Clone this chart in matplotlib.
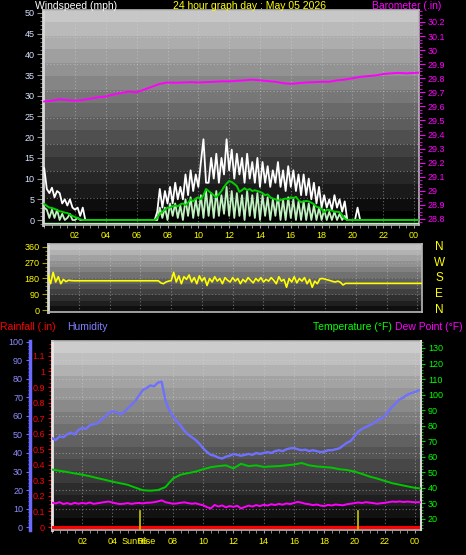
import numpy as np
import matplotlib.pyplot as plt
import matplotlib.transforms as mtransforms
from matplotlib.ticker import MultipleLocator, FuncFormatter

plt.rcParams['font.family'] = ['Liberation Sans', 'DejaVu Sans']

# --- wind readings, one every 10 minutes from 00:00 (mph) ---
wind_gust = [
    12.5, 7.5, 6.5, 7.8, 5.5, 7.0, 6.5, 4.0, 5.0, 3.5, 5.0, 3.0, 2.5, 3.0, 1.0, 3.0,
    0, 0, 0, 0, 0, 0, 0, 0, 0, 0, 0, 0, 0, 0, 0, 0, 0, 0, 0, 0, 0, 0, 0, 0, 0, 0, 0, 0,
    2, 7.5, 3, 7, 4, 8, 4, 9, 5, 8,
    5, 11, 6, 12, 7, 11, 8, 14, 19.5, 9,
    9, 15, 10, 16, 9, 15, 11, 19.5, 12, 17,
    10, 16, 11, 15, 9, 16, 10, 14, 9, 15,
    8, 14, 9, 13, 8, 12, 9, 14, 8, 12,
    7, 13, 8, 12, 7, 11, 6, 11, 6, 10,
    5, 9, 4, 8, 3, 6, 3, 5, 2.5, 6,
    3, 5, 2, 4.5,
    0, 0, 0, 0, 3.0, 0, 0, 0, 0, 0, 0, 0, 0, 0, 0, 0, 0, 0, 0, 0, 0, 0, 0, 0, 0, 0, 0, 0, 0,
]
wind_speed = [
    3, 2.5, 0.5, 2.5, 0.5, 2.5, 0, 1.5, 0, 0.5, 1.5, 0, 0, 0.5, 0, 0,
    0, 0, 0, 0, 0, 0, 0, 0, 0, 0, 0, 0, 0, 0, 0, 0, 0, 0, 0, 0, 0, 0, 0, 0, 0, 0, 0, 0,
    0, 3, 0.5, 3, 0, 4, 1, 4, 0.5, 3.5,
    0, 5, 1, 5.5, 0.5, 5, 1, 6, 0.5, 7,
    1, 6.5, 0.5, 7, 1, 6, 1.5, 8, 1, 7,
    0.5, 6.5, 1, 6, 0, 7, 1, 6, 0.5, 6.5,
    0, 6, 1, 5.5, 0, 5, 1, 6, 0, 5,
    0, 5.5, 0.5, 5, 0, 4.5, 0, 4.5, 0, 4,
    0, 3.5, 0, 3, 0, 2.5, 0, 2, 0, 2,
    0, 1.5, 0, 1,
    0, 0, 0, 0, 0, 0, 0, 0, 0, 0, 0, 0, 0, 0, 0, 0, 0, 0, 0, 0, 0, 0, 0, 0, 0, 0, 0, 0, 0,
]
wind_avg = [
    3.9, 3.4, 3.0, 2.9, 2.7, 2.4, 2.1, 2.0, 1.8, 1.7, 1.3, 1.0, 0.7, 0.5, 0.2, 0.0,
    0, 0, 0, 0, 0, 0, 0, 0, 0, 0, 0, 0, 0, 0, 0, 0, 0, 0, 0, 0, 0, 0, 0, 0, 0, 0, 0, 0,
    0.5, 1.5, 2, 2.5, 3, 3, 3.3, 3.5, 3.3, 3.8,
    4, 3.6, 4.2, 5, 4.5, 5.2, 5.5, 5, 6, 7.5,
    7, 6.5, 6, 5.5, 6.2, 7, 8, 8.8, 9.4, 9.2,
    8.7, 8.2, 6.8, 7.2, 7.7, 7.2, 7.5, 7, 7.2, 7,
    6.8, 6.5, 6.0, 6.2, 5.5, 5.2, 5, 4.7, 4.8, 5,
    5.2, 5, 5.5, 5.3, 5.6, 4.8, 4.3, 4.5, 4.6, 4.5,
    4.2, 3.8, 3.2, 3.0, 2.7, 1.8, 2.5, 2.4, 2.3, 2.0,
    2, 1.9, 1.2, 0.3,
    0, 0, 0, 0, 0, 0, 0, 0, 0, 0, 0, 0, 0, 0, 0, 0, 0, 0, 0, 0, 0, 0, 0, 0, 0, 0, 0, 0, 0,
]
# wind direction (degrees), same 10 minute steps
wind_dir = [
    200, 150, 215, 160, 190, 150, 175, 162, 170, 168,
    167, 167, 167, 167, 167, 167, 167, 167, 167, 167, 167, 167, 167, 167, 167, 167, 167,
    167, 167, 167, 167, 167, 167, 167, 167, 167, 167, 167, 167, 167, 167, 167, 167, 167,
    155, 150, 160, 165, 168,
    215, 160, 195, 150, 190, 175, 200, 160, 185, 150,
    195, 165, 185, 140, 180, 160, 190, 165, 180, 150,
    185, 170, 160, 185, 165, 180, 150, 175, 160, 185,
    170, 155, 180, 165, 185, 160, 175, 165, 185, 170,
    150, 190, 165, 175, 130, 180, 160, 190, 155, 180,
    165, 185, 150, 175, 130, 165, 150, 178, 180, 176,
    172, 168, 163, 160, 165, 158, 143,
    152, 152, 152, 152, 152, 152, 152, 152, 152, 152, 152, 152, 152, 152, 152, 152,
    152, 152, 152, 152, 152, 152, 152, 152, 152, 152, 152, 152, 152, 152, 152,
]

# barometer every 30 minutes (in)
baro = [
    29.635, 29.64, 29.65, 29.645, 29.64, 29.645, 29.655, 29.665, 29.67, 29.685,
    29.695, 29.705, 29.70, 29.72, 29.74, 29.76, 29.77, 29.768, 29.77, 29.772,
    29.77, 29.772, 29.775, 29.778, 29.778, 29.782, 29.785, 29.79, 29.785, 29.78,
    29.775, 29.765, 29.76, 29.765, 29.77, 29.772, 29.775, 29.775, 29.785, 29.79,
    29.80, 29.81, 29.815, 29.82, 29.83, 29.835, 29.838, 29.835, 29.838, 29.84,
]

# humidity (%) and dew point (F) every 15 minutes
humidity = [
    48, 47, 49, 48.5, 50, 51, 50, 52.5, 53.5, 53, 55, 55.5, 56, 58, 59.5, 61.6,
    62.5, 62, 61, 62, 64, 66, 68, 71, 74, 75, 76.5, 76, 78, 78.5, 68.5, 63,
    60, 57, 55, 52, 50, 48.5, 47, 45, 42.5, 40.5, 39, 38.5, 37.5, 37, 38, 38.5,
    39.5, 39, 38.5, 39, 39.5, 39, 40, 39.5, 40, 40.5, 40, 41, 41.5, 41, 42, 42.5,
    42.7, 42, 41.5, 41.8, 41, 41.5, 41, 40.5, 40.7, 41.5, 41.5, 42, 42.5, 44, 45.5, 46.5,
    49, 51.5, 53, 54, 55, 56, 57.5, 58.5, 60, 62.5, 65, 67, 69, 70, 71.5, 72.3,
    73, 73.8, 74.5,
]
dew_point = [
    30.5, 30, 30.8, 29.6, 30.2, 29.5, 30.4, 29.8, 30.3, 29.9, 30.6, 29.7, 30.1, 30.5, 30.9, 31.2,
    30.6, 30, 29.6, 29.8, 30.2, 29.7, 30.1, 30.3, 30, 30.4, 30.5, 30.8, 31.3, 32, 30.8, 30.3,
    29.8, 30, 30.4, 30.7, 30.2, 29.8, 30.1, 29.4, 28.8, 27.6, 26.8, 29, 28, 28.7, 27.5, 28.3,
    27.8, 28.5, 26.8, 27.7, 28.6, 28, 28.9, 28.3, 29.1, 28.6, 29.5, 29, 29.7, 29.2, 30, 29.6,
    30.3, 31, 30.5, 29.8, 29.5, 28.9, 29.3, 28.6, 28.3, 29, 28.7, 29.3, 29, 28.8, 29.5, 29.8,
    30.2, 30.6, 30.3, 30.8, 30.5, 30.2, 29.8, 30.1, 30.4, 30.8, 31.2, 31, 31.3, 30.9, 31.2, 31,
    30.7, 30.8, 30.6,
]
# temperature (F) every 30 minutes
temperature = [
    51.8, 51, 50.2, 49.3, 48.5, 47.5, 46.3, 45.2, 44, 43,
    42, 40.2, 38.5, 38.2, 38.6, 40.5, 46, 48.5, 49.5, 50.5,
    52, 53.3, 54, 54.5, 52.5, 55.5, 54, 54.5, 53.5, 53.8,
    54, 54.5, 55, 56, 54.5, 53.8, 53.4, 53, 52, 51.5,
    50.5, 49, 47.3, 46, 44.5, 43, 42, 41, 40, 39.5,
]
# rainfall (in), hourly
rain = [0.0, 0.0, 0.0, 0.0, 0.0, 0.0, 0.0, 0.0, 0.0, 0.0, 0.0, 0.0, 0.0,
        0.0, 0.0, 0.0, 0.0, 0.0, 0.0, 0.0, 0.0, 0.0, 0.0, 0.0, 0.0, 0.0]

sunrise_hr = 5.83
sunset_hr = 20.23
chart_title = '24 hour graph day : May 05 2026'
hour_ticks = [2, 4, 6, 8, 10, 12, 14, 16, 18, 20, 22, 24]
hour_labels = ['02', '04', '06', '08', '10', '12', '14', '16', '18', '20', '22', '00']
compass = ['N', 'W', 'S', 'E', 'N']
compass_deg = [360, 270, 180, 90, 0]

t10 = np.arange(len(wind_gust)) / 6
t15 = np.arange(len(humidity)) / 4
t30 = np.arange(len(baro)) / 2
t_temp = np.arange(len(temperature)) / 2
t_rain = np.arange(len(rain))

W, H = 466, 555
fig = plt.figure(figsize=(W / 100, H / 100), dpi=100, facecolor='black')


def box(x0, y0, x1, y1):
    # pixel box (top-left origin) -> figure fraction rect
    return [x0 / W, 1 - y1 / H, (x1 - x0) / W, (y1 - y0) / H]


def shade(ax, top, bottom, n=16):
    vals = np.linspace(top, bottom, n).reshape(-1, 1)
    ax.imshow(vals, cmap='gray', vmin=0, vmax=1, aspect='auto', extent=[0, 1, 0, 1],
              transform=ax.transAxes, interpolation='nearest', zorder=0)


def hgrid(ax, fracs):
    for f in fracs:
        ax.plot([0, 1], [f, f], transform=ax.transAxes, color='#d8d8d8', alpha=0.45,
                lw=0.8, ls=(0, (1, 2)), zorder=1)


def xgrid(ax):
    for h in hour_ticks:
        ax.axvline(h, color='#d8d8d8', alpha=0.45, lw=0.8, ls=(0, (1, 2)), zorder=1)


def style_spines(ax, left='#d8d8d8'):
    for s in ['top', 'right', 'bottom']:
        ax.spines[s].set_color('#b8b8b8')
        ax.spines[s].set_linewidth(1.2)
    ax.spines['left'].set_color(left)
    ax.spines['left'].set_linewidth(2)


# --- top panel: wind speed + barometer ---
ax_w = fig.add_axes(box(43, 10, 419, 225))
ax_w.set_facecolor('black')
shade(ax_w, 0.78, 0.0)
hgrid(ax_w, np.linspace(0, 1, 9)[1:-1])
xgrid(ax_w)
ax_w.plot(t10, wind_gust, color='white', lw=1.3, zorder=3)
ax_w.axhline(-0.7, color='#b8f0b8', lw=1.0, zorder=3)
ax_w.plot(t10, wind_speed, color='#c0f2c0', lw=1.3, zorder=4)
ax_w.plot(t10, wind_avg, color='#00d000', lw=1.4, zorder=5)
ax_w.set_xlim(-0.08, 24.32)
ax_w.set_ylim(-1.2, 50.7)
ax_w.set_xticks(hour_ticks)
ax_w.set_xticklabels(hour_labels)
ax_w.xaxis.set_minor_locator(MultipleLocator(0.5))
ax_w.yaxis.set_major_locator(MultipleLocator(5))
ax_w.yaxis.set_minor_locator(MultipleLocator(1))
ax_w.tick_params(axis='x', which='both', colors='#a0a0a0', labelcolor='#ffff00',
                 labelsize=6.5, length=2, pad=2)
ax_w.tick_params(axis='y', which='major', colors='#909090', labelcolor='#d8e4ff',
                 labelsize=6.5, length=4, pad=2)
ax_w.tick_params(axis='y', which='minor', colors='#909090', length=2)
style_spines(ax_w)

ax_b = ax_w.twinx()
ax_b.plot(t30, baro, color='#ff00ff', lw=1.4, zorder=6)
ax_b.set_ylim(28.757, 30.285)
ax_b.yaxis.set_major_locator(MultipleLocator(0.1))
ax_b.yaxis.set_minor_locator(MultipleLocator(0.025))
ax_b.yaxis.set_major_formatter(FuncFormatter(lambda v, p: f'{v:.1f}'.rstrip('0').rstrip('.')))
ax_b.tick_params(axis='y', which='major', colors='#ff00ff', labelsize=6.5, length=4, pad=2)
ax_b.tick_params(axis='y', which='minor', colors='#ff00ff', length=2)
for s in ax_b.spines.values():
    s.set_visible(False)

fig.text(35 / W, 1 - 6 / H, 'Windspeed (mph)', color='white', fontsize=7.5, va='center')
fig.text(250 / W, 1 - 6 / H, chart_title, color='#ffff00', fontsize=7.5,
         va='center', ha='center')
fig.text(372 / W, 1 - 6 / H, 'Barometer (.in)', color='#ff00ff', fontsize=7.5, va='center')

# --- middle panel: wind direction ---
ax_d = fig.add_axes(box(48, 244, 422, 312))
shade(ax_d, 0.76, 0.06, n=12)
xgrid(ax_d)
for d in [90, 180, 270]:
    ax_d.axhline(d, color='#c0c0c0', alpha=0.35, lw=0.8, ls=(0, (1, 2)), zorder=1)
ax_d.plot(t10, wind_dir, color='#ffff00', lw=1.2, zorder=3)
ax_d.set_xlim(0, 24.3)
ax_d.set_ylim(-11.4, 377)
ax_d.set_yticks([0, 90, 180, 270, 360])
ax_d.yaxis.set_minor_locator(MultipleLocator(22.5))
ax_d.set_xticks([])
ax_d.tick_params(axis='y', which='major', colors='#a0a000', labelcolor='#ffff00',
                 labelsize=6.5, length=4, pad=2)
ax_d.tick_params(axis='y', which='minor', colors='#a0a000', length=2)
style_spines(ax_d)
trans_d = mtransforms.blended_transform_factory(ax_d.transAxes, ax_d.transData)
for lab, deg in zip(compass, compass_deg):
    ax_d.text(1.046, deg, lab, transform=trans_d, color='#ffff00', fontsize=8.5,
              ha='center', va='center', clip_on=False)

# --- legend row ---
fy = 1 - 327 / H
fig.text(0 / W, fy, 'Rainfall (.in)', color='#ff0000', fontsize=7.5, va='center')
fig.text(67 / W, fy, 'Humidity', color='#8080ff', fontsize=7.5, va='center')
fig.text(313 / W, fy, 'Temperature (°F)', color='#00ff00', fontsize=7.5, va='center')
fig.text(395 / W, fy, 'Dew Point (°F)', color='#ff00ff', fontsize=7.5, va='center')

# --- bottom panel: rain, humidity, temperature, dew point ---
ax_r = fig.add_axes(box(52, 341, 421, 530))
shade(ax_r, 0.8, 0.02)
hgrid(ax_r, [(v + 1.6) / 102.1 for v in [10, 20, 30, 40, 50, 60, 70, 80, 90]])
xgrid(ax_r)
ax_r.plot(t_rain, rain, color='#ff0000', lw=2.2, zorder=6)
for hr in [sunrise_hr, sunset_hr]:
    ax_r.axvline(hr, ymin=0, ymax=0.1, color='#c8c800', lw=1.2, zorder=7)
ax_r.set_xlim(0.0, 24.4)
ax_r.set_ylim(-0.019, 1.196)
ax_r.set_xticks(hour_ticks)
ax_r.set_xticklabels(hour_labels)
ax_r.xaxis.set_minor_locator(MultipleLocator(0.5))
ax_r.yaxis.set_major_locator(MultipleLocator(0.1))
ax_r.yaxis.set_minor_locator(MultipleLocator(0.025))
ax_r.yaxis.set_major_formatter(FuncFormatter(lambda v, p: f'{v:.1f}'.rstrip('0').rstrip('.')))
ax_r.tick_params(axis='x', which='both', colors='#a0a0a0', labelcolor='#ffff00',
                 labelsize=6.5, length=2, pad=3)
ax_r.tick_params(axis='y', which='major', colors='#ff0000', labelsize=6.5, length=3, pad=2)
ax_r.tick_params(axis='y', which='minor', colors='#ff0000', length=2)
style_spines(ax_r, left='#e8e8e8')
trans_r = mtransforms.blended_transform_factory(ax_r.transData, ax_r.transAxes)
# the sunrise label sits on top of the 06 tick label, as on the original graph
ax_r.text(sunrise_hr - 0.1, -0.063, 'SunRise', transform=trans_r, color='#ffff00',
          fontsize=6.5, ha='center', va='center', clip_on=False)

ax_h = ax_r.twinx()
ax_h.plot(t15, humidity, color='#7070ff', lw=1.7, zorder=4)
ax_h.set_ylim(-1.6, 100.5)
ax_h.yaxis.tick_left()
ax_h.spines['left'].set_position(('outward', 15.8))
ax_h.spines['left'].set_visible(True)
ax_h.spines['left'].set_color('#6a6aff')
ax_h.spines['left'].set_linewidth(2.5)
for s in ['top', 'right', 'bottom']:
    ax_h.spines[s].set_visible(False)
ax_h.yaxis.set_major_locator(MultipleLocator(10))
ax_h.yaxis.set_minor_locator(MultipleLocator(2))
ax_h.tick_params(axis='y', which='major', colors='#6a6aff', labelcolor='#8c8cff',
                 labelsize=6.5, length=3, pad=2)
ax_h.tick_params(axis='y', which='minor', colors='#6a6aff', length=1.5)

ax_t = ax_r.twinx()
ax_t.plot(t_temp, temperature, color='#00c800', lw=1.4, zorder=4)
ax_t.plot(t15, dew_point, color='#ff00ff', lw=1.4, zorder=4)
ax_t.set_ylim(12.9, 134.5)
ax_t.yaxis.set_major_locator(MultipleLocator(10))
ax_t.yaxis.set_minor_locator(MultipleLocator(2))
ax_t.tick_params(axis='y', which='major', colors='#00d000', labelcolor='#00ff00',
                 labelsize=6.5, length=3, pad=2)
ax_t.tick_params(axis='y', which='minor', colors='#00d000', length=1.5)
for s in ['top', 'left', 'bottom']:
    ax_t.spines[s].set_visible(False)
ax_t.spines['right'].set_color('#d8d8d8')
ax_t.spines['right'].set_linewidth(1.5)

fig.savefig('out.png', dpi=100, facecolor='black')
